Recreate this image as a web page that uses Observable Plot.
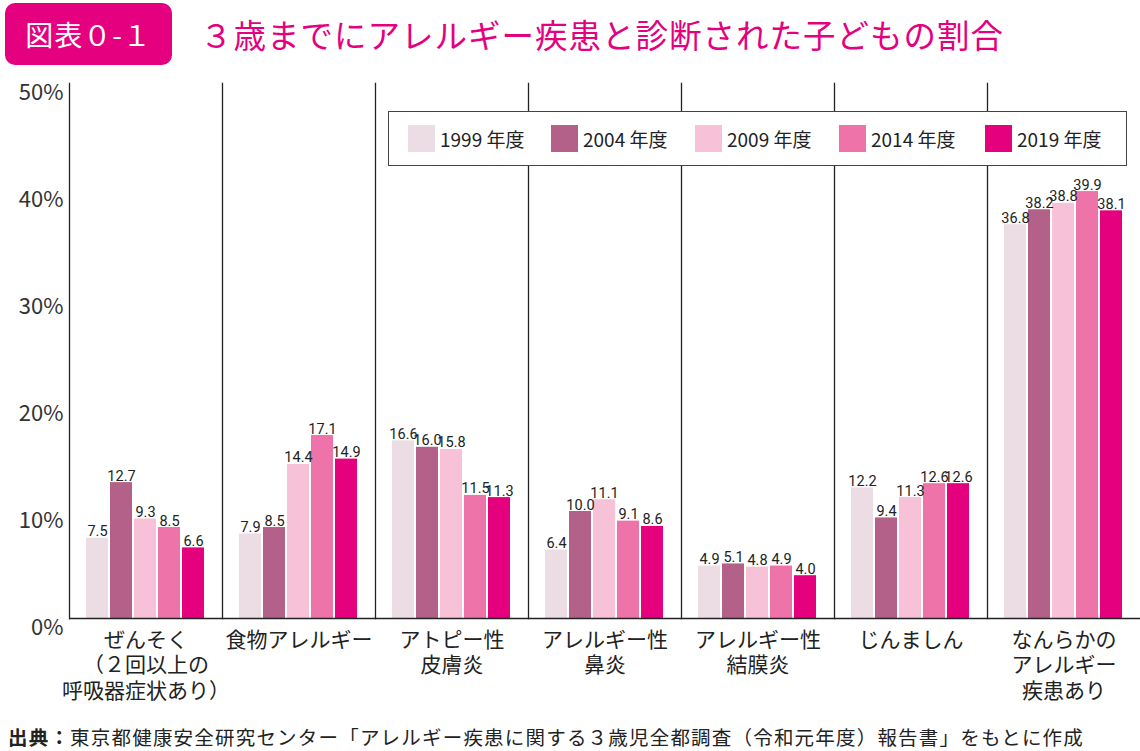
<!DOCTYPE html>
<html><head><meta charset="utf-8">
<script src="https://cdn.jsdelivr.net/npm/d3@7"></script>
<script src="https://cdn.jsdelivr.net/npm/@observablehq/plot@0.6"></script>
<style>
body{margin:0;background:#fff;font-family:"Noto Sans CJK JP","Noto Sans",sans-serif;}
#wrap{position:relative;width:1140px;height:751px;overflow:hidden;}
#badge{position:absolute;left:5px;top:3px;width:167px;height:62px;border-radius:10px;background:#e4007f;color:#fff;font-size:28px;line-height:62px;text-align:center;letter-spacing:1px;}
#title{position:absolute;left:200px;top:12px;font-size:32.5px;line-height:44px;color:#e4007f;letter-spacing:1px;white-space:nowrap;}
#chart{position:absolute;left:0;top:70px;}
#legend{position:absolute;left:388px;top:111px;width:737px;height:53px;border:1.6px solid #444;background:#fff;}
.li{position:absolute;top:13px;height:27px;display:flex;align-items:center;font-size:19px;color:#222;white-space:nowrap;}
.sw{width:27px;height:27px;margin-right:5px;}
#caption{position:absolute;left:8px;top:722px;font-size:19.5px;letter-spacing:1.2px;color:#222;white-space:nowrap;}
</style></head>
<body><div id="wrap">
<div id="badge">図表０-１</div>
<div id="title">３歳までにアレルギー疾患と診断された子どもの割合</div>
<div id="chart"></div>
<div id="legend"></div>
<div id="caption"><b>出典：</b>東京都健康安全研究センター「アレルギー疾患に関する３歳児全都調査（令和元年度）報告書」をもとに作成</div>
</div>
<script>
const categories = ["ぜんそく\n（２回以上の\n呼吸器症状あり）","食物アレルギー","アトピー性\n皮膚炎","アレルギー性\n鼻炎","アレルギー性\n結膜炎","じんましん","なんらかの\nアレルギー\n疾患あり"];
const years = ["1999 年度","2004 年度","2009 年度","2014 年度","2019 年度"];
const colors = ["#ecdce3","#b4618a","#f7c1d8","#ee73a9","#e5007e"];
const v1999 = [7.5, 7.9, 16.6, 6.4, 4.9, 12.2, 36.8];
const v2004 = [12.7, 8.5, 16.0, 10.0, 5.1, 9.4, 38.2];
const v2009 = [9.3, 14.4, 15.8, 11.1, 4.8, 11.3, 38.8];
const v2014 = [8.5, 17.1, 11.5, 9.1, 4.9, 12.6, 39.9];
const v2019 = [6.6, 14.9, 11.3, 8.6, 4.0, 12.6, 38.1];
const yTicks = [0, 10, 20, 30, 40, 50];

const series = [v1999, v2004, v2009, v2014, v2019];
const data = [];
categories.forEach((c, i) => series.forEach((s, j) => data.push({cat: c, year: years[j], v: s[i]})));

const chart = Plot.plot({
  width: 1140, height: 650,
  marginLeft: 68, marginRight: 0, marginTop: 13, marginBottom: 102,
  style: {fontFamily: '"Noto Sans CJK JP","Noto Sans",sans-serif', background: "transparent", color: "#222"},
  fx: {domain: categories, padding: 0, label: null, axis: null},
  x: {domain: years, paddingInner: 0.08, paddingOuter: 0.62, axis: null},
  y: {domain: [0, 50], label: null, axis: null},
  color: {domain: years, range: colors},
  marks: [
    Plot.frame({anchor: "left", stroke: "#222", strokeWidth: 1.3}),
    Plot.barY(data, {fx: "cat", x: "year", y: "v", fill: "year"}),
    Plot.text(data, {fx: "cat", x: "year", y: "v", text: d => d.v.toFixed(1), lineAnchor: "bottom", dy: -2,
      fontSize: 14.5, fontFamily: 'Roboto,"Liberation Sans",sans-serif', letterSpacing: -0.6, fill: "#222"}),
    Plot.ruleY([0], {stroke: "#222", strokeWidth: 1.5}),
    Plot.axisY({ticks: yTicks, tickFormat: d => d + "%", tickSize: 0, tickPadding: 6, fontSize: 22, dy: 9, label: null, fill: "#333"}),
    Plot.axisFx({anchor: "bottom", tickSize: 0, tickPadding: 10, fontSize: 21, lineHeight: 1.22, label: null, fill: "#222"})
  ]
});
document.getElementById("chart").appendChild(chart);

const legend = document.getElementById("legend");
const lx = [19, 162, 306, 450, 596];
years.forEach((y, i) => {
  const d = document.createElement("div");
  d.className = "li"; d.style.left = lx[i] + "px";
  d.innerHTML = `<span class="sw" style="background:${colors[i]}"></span><span>${y}</span>`;
  legend.appendChild(d);
});
</script>
</body></html>
